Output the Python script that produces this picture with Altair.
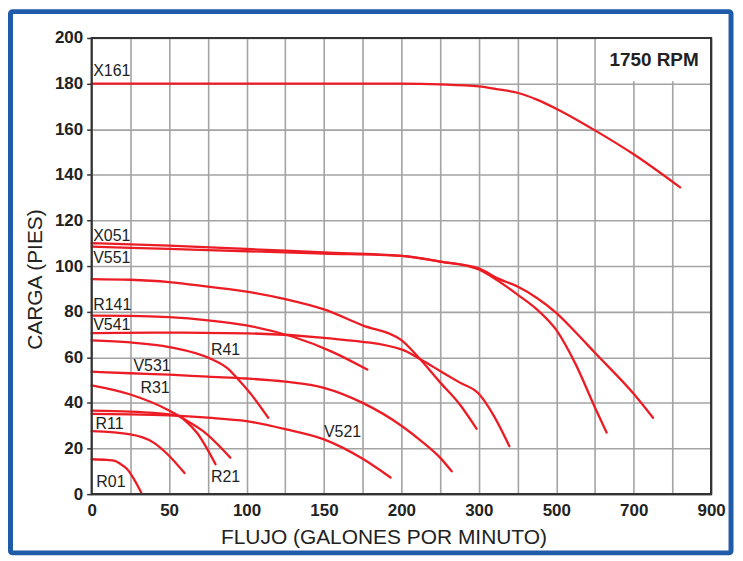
import altair as alt
import pandas as pd

# ---- data (flow in GPM, head in feet) ----
curve_names = ["X161", "X051a", "X051b", "V551", "R141", "V541", "R41",
               "V531", "R31", "R21", "V521", "R11", "R01"]
curve_flows = [
    [0, 100, 200, 250, 300, 350, 400, 450, 500, 600, 700, 820],
    [0, 50, 100, 150, 200, 250, 300, 350, 400, 450, 500, 550, 600, 700, 750],
    [0, 50, 100, 150, 200, 250, 300, 350, 400, 450, 500, 550, 600, 630],
    [0, 25, 50, 75, 100, 125, 150, 175, 200, 222, 250, 275, 297],
    [0, 25, 50, 75, 100, 130, 155, 178],
    [0, 50, 100, 150, 200, 225, 250, 275, 300, 340, 379],
    [0, 25, 50, 78, 88, 95, 105, 114],
    [0, 25, 50, 75, 100, 125, 150, 175, 200, 225, 250, 265],
    [0, 25, 49, 60, 68, 80],
    [0, 25, 40, 55, 62, 72, 89.5],
    [0, 25, 50, 75, 100, 125, 150, 175, 193],
    [0, 25, 40, 49, 60],
    [0, 10, 15, 18, 23, 32],
]
curve_heads = [
    [180, 180, 180, 179.7, 178.8, 177.5, 176, 173, 169, 159.5, 149, 134.5],
    [110, 109, 107.5, 106, 104.5, 102, 99, 94.5, 91, 86, 79.5, 71, 62, 44, 33.5],
    [108.5, 107.5, 106.5, 105.5, 104.5, 102, 98.5, 93.5, 87.5, 81, 72, 57, 38, 27],
    [94.3, 94, 93, 91, 88.8, 85.5, 81, 74, 67.5, 60, 49, 39.5, 28.7],
    [78.3, 78.2, 77.6, 76.2, 74, 69, 62.5, 54.6],
    [70.6, 70.8, 70.5, 68.5, 63.5, 59, 54, 49, 44, 34, 21],
    [67.4, 66.5, 64.5, 59, 55, 50, 42, 33.5],
    [53.7, 53, 52.4, 51.5, 50.7, 49.3, 46.6, 40, 30, 23.5, 16, 10],
    [47.7, 43.7, 37, 32.5, 26.9, 13.1],
    [36.6, 36.2, 35.6, 34.5, 32, 27.6, 16],
    [35.2, 35, 34.5, 33.5, 32, 28.5, 24, 15.5, 7.3],
    [27.6, 26.2, 22.6, 17.5, 9.2],
    [15.3, 15, 14.6, 13.5, 10.9, 0.7],
]

label_texts = ["X161", "X051", "V551", "R141", "V541", "R41", "V531",
               "R31", "R11", "R01", "R21", "V521"]
label_flows = [1, 1, 1, 1, 1, 77, 27, 31.5, 2.5, 3, 77, 150]
label_heads = [185.5, 113, 103.5, 83, 74, 63.3, 56, 46.7, 30.6, 5.2, 7.4, 27.1]

x_grid_flows = [0, 25, 50, 75, 100, 125, 150, 175, 200, 250, 300,
                400, 500, 600, 700, 800, 900]
x_label_flows = [0, 50, 100, 150, 200, 300, 500, 700, 900]
y_ticks = [0, 20, 40, 60, 80, 100, 120, 140, 160, 180, 200]

rpm_text = "1750 RPM"

# ---- layout ----
W, H = 622, 458
x_domain_breaks = [0, 200, 300, 900]
x_range_breaks = [0, W * 8 / 16, W * 10 / 16, W]

rows = []
for name, fl, hd in zip(curve_names, curve_flows, curve_heads):
    for i, (f, h) in enumerate(zip(fl, hd)):
        rows.append({"curve": name, "flow": f, "head": h, "order": i})
curves_df = pd.DataFrame(rows)
labels_df = pd.DataFrame({"text": label_texts, "flow": label_flows, "head": label_heads})

RED = "#ec1c24"
TXT = "#222222"
FONT = "Liberation Sans"

xscale = alt.Scale(domain=x_domain_breaks, range=x_range_breaks, nice=False)
yscale = alt.Scale(domain=[0, 200], nice=False)

label_expr = ("indexof([" + ",".join(str(v) for v in x_label_flows) +
              "], datum.value) >= 0 ? datum.label : ''")

x_enc = alt.X("flow:Q", scale=xscale,
              axis=alt.Axis(values=x_grid_flows, tickCount=50,
                            labelExpr=label_expr,
                            title="FLUJO (GALONES POR MINUTO)", ticks=False,
                            domain=False, labelPadding=8,
                            labelFontWeight="bold", labelFontSize=17,
                            labelColor=TXT, labelFont=FONT,
                            titleFont=FONT, titleFontSize=21,
                            titleFontWeight="normal", titleColor=TXT,
                            titleX=293, titleY=44, titleBaseline="middle",
                            gridColor="#a3a3a3", gridWidth=1.6,
                            labelOverlap=False, labelFlush=False))
y_enc = alt.Y("head:Q", scale=yscale,
              axis=alt.Axis(values=y_ticks, tickCount=50, title="CARGA (PIES)",
                            tickSize=5, tickColor="#333333", tickWidth=1.5,
                            domain=False, labelPadding=4,
                            labelFontWeight="bold", labelFontSize=17,
                            labelColor=TXT, labelFont=FONT,
                            titleFont=FONT, titleFontSize=21,
                            titleFontWeight="normal", titleColor=TXT,
                            titleX=-56, titleY=242, titleBaseline="middle",
                            gridColor="#a3a3a3", gridWidth=1.6,
                            labelOverlap=False))

lines = alt.Chart(curves_df).mark_line(
    color=RED, strokeWidth=2.3, interpolate="monotone", strokeCap="round"
).encode(x=x_enc, y=y_enc, detail="curve:N", order="order:Q")

labels = alt.Chart(labels_df).mark_text(
    align="left", baseline="middle", font=FONT, fontSize=16, color=TXT
).encode(x="flow:Q", y="head:Q", text="text:N")

box_df = pd.DataFrame({"x0": [605], "x1": [900], "y0": [181], "y1": [200]})
rpm_box = alt.Chart(box_df).mark_rect(fill="white").encode(
    x="x0:Q", x2="x1:Q", y="y0:Q", y2="y1:Q")

rpm_df = pd.DataFrame({"flow": [868], "head": [190.4], "text": [rpm_text]})
rpm_label = alt.Chart(rpm_df).mark_text(
    align="right", baseline="middle", font=FONT, fontSize=19,
    fontWeight="bold", color=TXT
).encode(x="flow:Q", y="head:Q", text="text:N")

frame = alt.Chart(alt.Data(values=[{}])).mark_rect(
    filled=False, stroke="#333333", strokeWidth=2.2
).encode(x=alt.value(0), x2=alt.value(W), y=alt.value(0), y2=alt.value(H))

outer = alt.Chart(alt.Data(values=[{}])).mark_rect(
    filled=False, stroke="#1f5ba8", strokeWidth=5, cornerRadius=2
).encode(x=alt.value(-81.5), x2=alt.value(642), y=alt.value(-26.5), y2=alt.value(517))

chart = alt.layer(lines, labels, rpm_box, rpm_label, frame, outer).properties(
    width=W, height=H,
    autosize=alt.AutoSizeParams(type="none"),
    padding={"left": 84, "top": 29, "right": 24, "bottom": 62},
    background="white",
).configure_view(stroke=None)

chart.save("out.html", embed_options={"renderer": "svg", "actions": False})
